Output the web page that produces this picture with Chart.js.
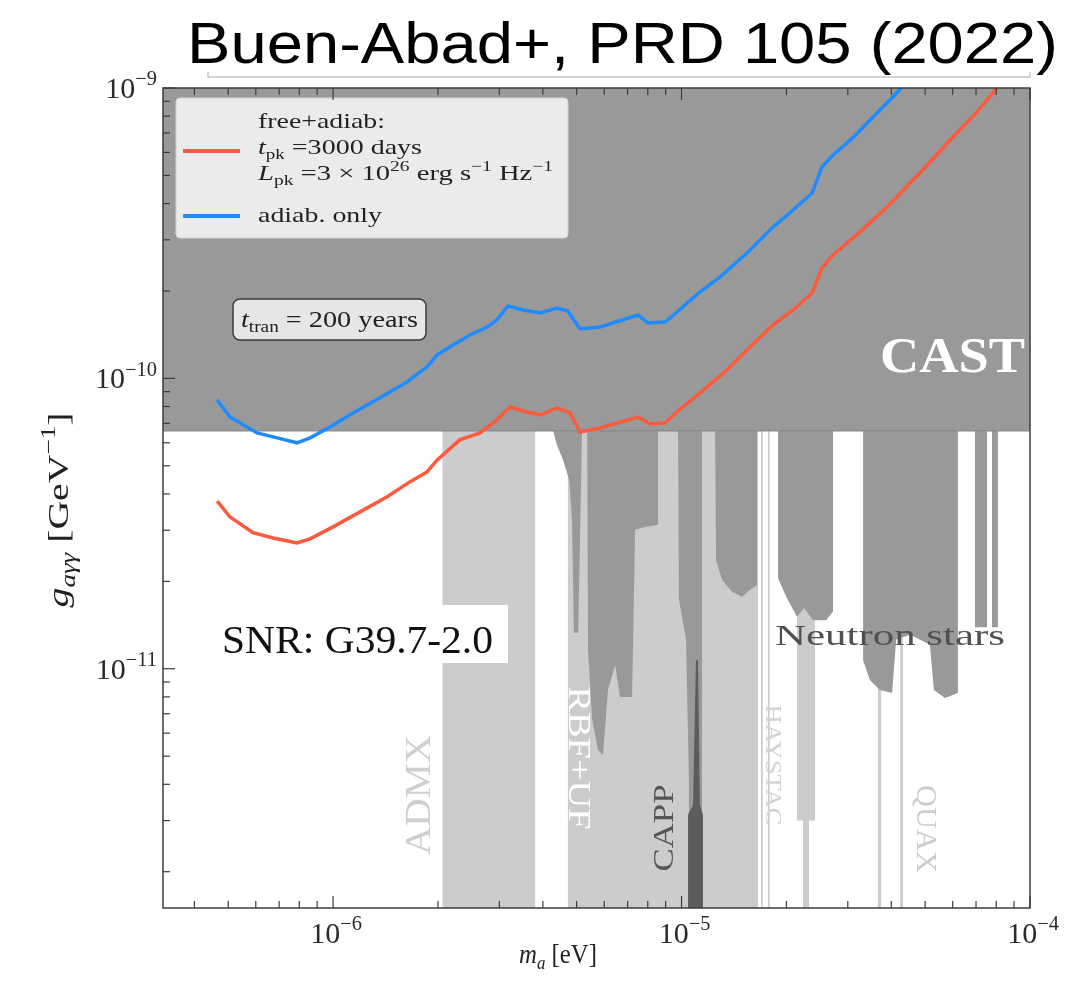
<!DOCTYPE html>
<html>
<head>
<meta charset="utf-8">
<script src="https://cdn.jsdelivr.net/npm/chart.js@4.4.0/dist/chart.umd.min.js"></script>
<style>
  html, body { margin: 0; padding: 0; background: #fff; }
  canvas { display: block; }
</style>
</head>
<body>
<canvas id="myChart" width="1066" height="987"></canvas>
<script>
// ---- data (m_a in eV, g in GeV^-1) ----
const massBlue = [4.65e-7, 5.06e-7, 6.05e-7, 6.91e-7, 7.88e-7, 8.59e-7, 9.8e-7, 1.14e-6, 1.36e-6, 1.63e-6,
  1.86e-6, 1.99e-6, 2.21e-6, 2.47e-6, 2.77e-6, 2.95e-6, 3.18e-6, 3.51e-6, 3.93e-6, 4.39e-6,
  4.72e-6, 5.11e-6, 5.84e-6, 7.5e-6, 8.01e-6, 8.97e-6, 9.7e-6, 1.13e-5, 1.29e-5, 1.54e-5,
  1.83e-5, 2.09e-5, 2.37e-5, 2.53e-5, 2.72e-5, 3.10e-5, 3.64e-5, 4.04e-5, 4.27e-5];
const gBlue = [8.43e-11, 7.36e-11, 6.49e-11, 6.24e-11, 6.0e-11, 6.24e-11, 6.8e-11, 7.6e-11, 8.56e-11, 9.72e-11,
  1.096e-10, 1.205e-10, 1.303e-10, 1.41e-10, 1.503e-10, 1.589e-10, 1.775e-10, 1.72e-10, 1.68e-10, 1.747e-10,
  1.706e-10, 1.48e-10, 1.503e-10, 1.653e-10, 1.552e-10, 1.564e-10, 1.693e-10, 1.984e-10, 2.235e-10, 2.70e-10,
  3.32e-10, 3.80e-10, 4.35e-10, 5.35e-10, 5.88e-10, 6.73e-10, 8.2e-10, 9.31e-10, 1.0e-9];

const massRed = [4.65e-7, 5.06e-7, 5.89e-7, 6.73e-7, 7.88e-7, 8.59e-7, 1.0e-6, 1.195e-6, 1.43e-6, 1.66e-6,
  1.86e-6, 1.99e-6, 2.31e-6, 2.64e-6, 2.95e-6, 3.22e-6, 3.51e-6, 3.93e-6, 4.39e-6, 4.79e-6,
  5.11e-6, 5.84e-6, 7.5e-6, 8.12e-6, 8.97e-6, 9.7e-6, 1.13e-5, 1.35e-5, 1.573e-5, 1.83e-5,
  2.09e-5, 2.37e-5, 2.53e-5, 2.72e-5, 3.25e-5, 3.89e-5, 4.83e-5, 6.01e-5, 7.05e-5, 8.04e-5];
const gRed = [3.78e-11, 3.33e-11, 2.94e-11, 2.82e-11, 2.71e-11, 2.80e-11, 3.08e-11, 3.47e-11, 3.91e-11, 4.40e-11,
  4.76e-11, 5.24e-11, 6.14e-11, 6.49e-11, 7.19e-11, 7.97e-11, 7.72e-11, 7.48e-11, 7.91e-11, 7.6e-11,
  6.54e-11, 6.75e-11, 7.36e-11, 6.97e-11, 7.02e-11, 7.66e-11, 8.91e-11, 1.069e-10, 1.283e-10, 1.528e-10,
  1.72e-10, 1.968e-10, 2.40e-10, 2.66e-10, 3.19e-10, 3.89e-10, 5.1e-10, 6.78e-10, 8.27e-10, 1.0e-9];

const castLimit = 6.6e-11;

// haloscopes (light grey strips): start, end, lower edge
const lightStart  = [2.06e-6, 4.72e-6, 1.69e-5, 1.77e-5, 2.145e-5, 2.232e-5, 2.322e-5, 3.66e-5, 4.24e-5];
const lightEnd    = [3.80e-6, 1.658e-5, 1.71e-5, 1.79e-5, 2.232e-5, 2.322e-5, 2.416e-5, 3.74e-5, 4.32e-5];
const lightBottom = [1.5e-12, 1.5e-12, 1.5e-12, 1.5e-12, 3.0e-12, 1.5e-12, 3.0e-12, 1.5e-12, 1.5e-12];

// neutron star limits: lower edge of the excluded region
const nsMass = [4.28e-6, 4.39e-6, 4.57e-6, 4.76e-6, 4.85e-6, 4.91e-6, 5.05e-6, 5.15e-6, 5.18e-6,
  5.36e-6, 5.39e-6, 5.54e-6, 5.76e-6, 5.95e-6, 6.15e-6, 6.45e-6, 6.66e-6, 7.21e-6, 7.36e-6, 7.86e-6, 8.56e-6, 8.56e-6,
  9.77e-6, 9.83e-6, 1.03e-5, 1.05e-5, 1.05e-5, 1.145e-5, 1.145e-5,
  1.248e-5, 1.256e-5, 1.307e-5, 1.396e-5, 1.491e-5, 1.573e-5, 1.647e-5, 1.647e-5,
  1.892e-5, 1.892e-5, 2.007e-5, 2.145e-5, 2.247e-5, 2.384e-5, 2.598e-5, 2.72e-5, 2.72e-5,
  3.32e-5, 3.32e-5, 3.47e-5, 3.71e-5, 4.02e-5, 4.13e-5, 4.53e-5, 5.16e-5, 5.30e-5, 5.70e-5, 6.21e-5, 6.21e-5,
  6.95e-5, 6.95e-5, 7.53e-5, 7.53e-5, 7.78e-5, 7.78e-5, 8.09e-5, 8.09e-5, 1e-4];
const nsG = [6.6e-11, 5.90e-11, 5.24e-11, 4.47e-11, 3.25e-11, 1.33e-11, 1.33e-11, 4.47e-11, 6.6e-11,
  6.6e-11, 1.16e-11, 6.67e-12, 5.25e-12, 5.05e-12, 8.45e-12, 1.03e-11, 8.0e-12, 8.0e-12, 3.01e-11, 3.08e-11, 3.13e-11, 6.6e-11,
  6.6e-11, 1.73e-11, 1.26e-11, 4.14e-12, 1.5e-12, 1.5e-12, 6.6e-11,
  6.6e-11, 2.37e-11, 2.02e-11, 1.84e-11, 1.77e-11, 1.87e-11, 1.94e-11, 6.6e-11,
  6.6e-11, 2.05e-11, 1.75e-11, 1.51e-11, 1.62e-11, 1.47e-11, 1.47e-11, 1.57e-11, 6.6e-11,
  6.6e-11, 1.07e-11, 9.15e-12, 8.45e-12, 8.25e-12, 1.26e-11, 1.31e-11, 1.21e-11, 8.45e-12, 7.93e-12, 8.25e-12, 6.6e-11,
  6.6e-11, 1.39e-11, 1.39e-11, 6.6e-11, 6.6e-11, 1.39e-11, 1.39e-11, 6.6e-11, 6.6e-11];

// CAPP (dark narrow dip), upper edge
const cappMass = [1.044e-5, 1.044e-5, 1.079e-5, 1.10e-5, 1.115e-5, 1.129e-5, 1.152e-5, 1.152e-5];
const cappG    = [1.5e-12, 3.14e-12, 3.40e-12, 1.07e-11, 1.07e-11, 3.40e-12, 3.14e-12, 1.5e-12];

const xMin = 3.25e-7, xMax = 1e-4, yMin = 1.5e-12, yMax = 1e-9;
const xTickExp = [-6, -5, -4];
const yTickExp = [-11, -10, -9];

// ---- helpers ----
const pts = (xs, ys) => xs.map((x, i) => ({ x: x, y: ys[i] }));

function bandLine() {
  const out = [{ x: xMin, y: yMax }];
  for (let i = 0; i < lightStart.length; i++) {
    out.push({ x: lightStart[i], y: yMax }, { x: lightStart[i], y: lightBottom[i] },
             { x: lightEnd[i], y: lightBottom[i] }, { x: lightEnd[i], y: yMax });
  }
  out.push({ x: xMax, y: yMax });
  return out;
}

const SERIF = '"Liberation Serif", "DejaVu Serif", serif';

function runFont(r, size) {
  const sz = r.s ? size * 0.68 : size;
  return (r.i ? 'italic ' : '') + (r.b ? 'bold ' : '') + sz + 'px ' + (r.f || SERIF);
}
function drawRich(ctx, runs, x, y, size, color, align, fitW) {
  ctx.save();
  let w = 0;
  runs.forEach(r => { ctx.font = runFont(r, size); w += ctx.measureText(r.t).width; });
  const sx = fitW ? fitW / w : 1;
  const tw = w * sx;
  let x0 = x;
  if (align === 'center') x0 = x - tw / 2;
  if (align === 'right') x0 = x - tw;
  ctx.translate(x0, y);
  ctx.scale(sx, 1);
  ctx.fillStyle = color;
  ctx.textBaseline = 'alphabetic';
  ctx.textAlign = 'left';
  let cx = 0;
  runs.forEach(r => {
    ctx.font = runFont(r, size);
    const dy = r.s === 1 ? -size * 0.42 : (r.s === -1 ? size * 0.22 : 0);
    ctx.fillText(r.t, cx, dy);
    cx += ctx.measureText(r.t).width;
  });
  ctx.restore();
}
function drawRotated(ctx, runs, cx, cy, angle, size, color, fitW) {
  ctx.save();
  ctx.translate(cx, cy);
  ctx.rotate(angle);
  drawRich(ctx, runs, 0, size * 0.33, size, color, 'center', fitW);
  ctx.restore();
}
function roundRect(ctx, x, y, w, h, r) {
  ctx.beginPath();
  ctx.moveTo(x + r, y);
  ctx.arcTo(x + w, y, x + w, y + h, r);
  ctx.arcTo(x + w, y + h, x, y + h, r);
  ctx.arcTo(x, y + h, x, y, r);
  ctx.arcTo(x, y, x + w, y, r);
  ctx.closePath();
}

const decorations = {
  id: 'decorations',
  beforeDraw(chart) {
    const ctx = chart.ctx;
    ctx.save();
    ctx.fillStyle = '#fff';
    ctx.fillRect(0, 0, chart.width, chart.height);
    ctx.restore();
  },
  afterDatasetsDraw(chart) {
    const ctx = chart.ctx;
    ctx.save();
    // legend box
    roundRect(ctx, 176, 98, 392, 140, 4);
    ctx.fillStyle = '#ebebeb'; ctx.fill();
    ctx.strokeStyle = '#d2d2d2'; ctx.lineWidth = 1; ctx.stroke();
    ctx.lineWidth = 4;
    ctx.strokeStyle = '#fb5a3c';
    ctx.beginPath(); ctx.moveTo(183, 151); ctx.lineTo(240, 151); ctx.stroke();
    ctx.strokeStyle = '#1e8cff';
    ctx.beginPath(); ctx.moveTo(183, 216); ctx.lineTo(240, 216); ctx.stroke();
    drawRich(ctx, [{ t: 'free+adiab:' }], 258, 128, 22, '#222', 'left', 127);
    drawRich(ctx, [{ t: 't', i: 1 }, { t: 'pk', s: -1 }, { t: ' =3000 days' }], 258, 154, 22, '#222', 'left', 164);
    drawRich(ctx, [{ t: 'L', i: 1 }, { t: 'pk', s: -1 }, { t: ' =3 \u00d7 10' }, { t: '26', s: 1 },
      { t: ' erg s' }, { t: '\u22121', s: 1 }, { t: ' Hz' }, { t: '\u22121', s: 1 }], 258, 180, 22, '#222', 'left', 295);
    drawRich(ctx, [{ t: 'adiab. only' }], 258, 222, 22, '#222', 'left', 124);

    // t_tran box
    roundRect(ctx, 233, 299, 193, 41, 7);
    ctx.fillStyle = '#e6e6e6'; ctx.fill();
    ctx.strokeStyle = '#3a3a3a'; ctx.lineWidth = 1.5; ctx.stroke();
    drawRich(ctx, [{ t: 't', i: 1 }, { t: 'tran', s: -1 }, { t: ' = 200 years' }], 241, 327, 24, '#222', 'left', 177);

    // CAST
    drawRich(ctx, [{ t: 'CAST', b: 1 }], 880, 372, 50, '#ffffff', 'left', 145);

    // SNR label
    ctx.fillStyle = '#ffffff';
    ctx.fillRect(212, 605, 296, 58);
    drawRich(ctx, [{ t: 'SNR: G39.7-2.0' }], 222, 653, 40, '#111', 'left', 271);

    // experiments
    drawRich(ctx, [{ t: 'Neutron stars' }], 775, 645, 30, '#505050', 'left', 230);
    drawRotated(ctx, [{ t: 'ADMX' }], 418, 795, -Math.PI / 2, 36, '#cfcfcf', 120);
    drawRotated(ctx, [{ t: 'RBF+UF' }], 580, 758, Math.PI / 2, 32, '#ffffff', 143);
    drawRotated(ctx, [{ t: 'CAPP' }], 663, 828, -Math.PI / 2, 30, '#555555', 87);
    drawRotated(ctx, [{ t: 'HAYSTAC' }], 774, 765, Math.PI / 2, 24, '#d3d3d3', 121);
    drawRotated(ctx, [{ t: 'QUAX' }], 927, 829, Math.PI / 2, 30, '#cccccc', 88);
    ctx.restore();
  },
  afterDraw(chart) {
    const ctx = chart.ctx, a = chart.chartArea;
    const xs = chart.scales.x, ys = chart.scales.y;
    ctx.save();
    // frame
    ctx.strokeStyle = '#3c3c3c'; ctx.lineWidth = 1.5;
    ctx.strokeRect(a.left, a.top, a.right - a.left, a.bottom - a.top);
    // inward ticks
    ctx.lineWidth = 1.2;
    const seg = (x1, y1, x2, y2) => { ctx.beginPath(); ctx.moveTo(x1, y1); ctx.lineTo(x2, y2); ctx.stroke(); };
    for (let n = Math.floor(Math.log10(xMin)); n <= Math.ceil(Math.log10(xMax)); n++) {
      for (let k = 1; k <= 9; k++) {
        const v = k * Math.pow(10, n);
        if (v < xMin * 0.999 || v > xMax * 1.001) continue;
        const p = xs.getPixelForValue(v), L = k === 1 ? 12 : 7;
        seg(p, a.bottom, p, a.bottom - L);
        seg(p, a.top, p, a.top + L);
      }
    }
    for (let n = Math.floor(Math.log10(yMin)); n <= Math.ceil(Math.log10(yMax)); n++) {
      for (let k = 1; k <= 9; k++) {
        const v = k * Math.pow(10, n);
        if (v < yMin * 0.999 || v > yMax * 1.001) continue;
        const p = ys.getPixelForValue(v), L = k === 1 ? 12 : 7;
        seg(a.left, p, a.left + L, p);
      }
    }
    // tick labels
    xTickExp.forEach(e => {
      const p = xs.getPixelForValue(Math.pow(10, e));
      drawRich(ctx, [{ t: '10' }, { t: '\u2212' + Math.abs(e), s: 1 }], p + 3, 943, 30, '#2a2a2a', 'center');
    });
    yTickExp.forEach(e => {
      const p = ys.getPixelForValue(Math.pow(10, e));
      drawRich(ctx, [{ t: '10' }, { t: '\u2212' + Math.abs(e), s: 1 }], 157, p + 10, 30, '#2a2a2a', 'right');
    });
    // axis titles
    drawRich(ctx, [{ t: 'm', i: 1 }, { t: 'a', i: 1, s: -1 }, { t: ' [eV]' }], 558, 963, 27, '#222', 'center', 78);
    ctx.save();
    ctx.translate(68, 510);
    ctx.rotate(-Math.PI / 2);
    drawRich(ctx, [{ t: 'g', i: 1 }, { t: 'a\u03b3\u03b3', i: 1, s: -1 }, { t: ' [GeV' }, { t: '\u22121', s: 1 }, { t: ']' }],
      0, 0, 30, '#222', 'center', 195);
    ctx.restore();
    // title and its box edge
    ctx.strokeStyle = '#c8c8c8'; ctx.lineWidth = 1.5;
    ctx.beginPath(); ctx.moveTo(208, 72); ctx.lineTo(208, 77); ctx.lineTo(1030, 77); ctx.lineTo(1030, 72); ctx.stroke();
    drawRich(ctx, [{ t: 'Buen-Abad+, PRD 105 (2022)', f: '"Liberation Sans", Arial, sans-serif' }],
      187, 63, 58, '#000', 'left', 871);
    ctx.restore();
  }
};

const ctx = document.getElementById('myChart').getContext('2d');
const myChart = new Chart(ctx, {
  type: 'line',
  data: {
    datasets: [
      { label: 'adiab. only', data: pts(massBlue, gBlue), borderColor: '#1e8cff', borderWidth: 3.5,
        pointRadius: 0, fill: false, tension: 0 },
      { label: 'free+adiab', data: pts(massRed, gRed), borderColor: '#fb5a3c', borderWidth: 3.5,
        pointRadius: 0, fill: false, tension: 0 },
      { label: 'CAST', data: pts([xMin, xMax], [castLimit, castLimit]), borderColor: '#8c8c8c', borderWidth: 1.5,
        backgroundColor: '#999999', pointRadius: 0, fill: 'end' },
      { label: 'CAPP', data: pts(cappMass, cappG), borderWidth: 0, borderColor: 'rgba(0,0,0,0)',
        backgroundColor: '#5c5c5c', pointRadius: 0, fill: 'start' },
      { label: 'Neutron stars', data: pts(nsMass, nsG), borderWidth: 0, borderColor: 'rgba(0,0,0,0)',
        backgroundColor: '#999999', pointRadius: 0, fill: 'end' },
      { label: 'Haloscopes', data: bandLine(), borderWidth: 0, borderColor: 'rgba(0,0,0,0)',
        backgroundColor: '#cccccc', pointRadius: 0, fill: 'end' }
    ]
  },
  options: {
    responsive: false,
    animation: false,
    layout: { padding: { left: 163, top: 88, right: 36, bottom: 79 } },
    scales: {
      x: { type: 'logarithmic', min: xMin, max: xMax, display: false },
      y: { type: 'logarithmic', min: yMin, max: yMax, display: false }
    },
    plugins: {
      legend: { display: false },
      tooltip: { enabled: false }
    }
  },
  plugins: [decorations]
});
</script>
</body>
</html>
